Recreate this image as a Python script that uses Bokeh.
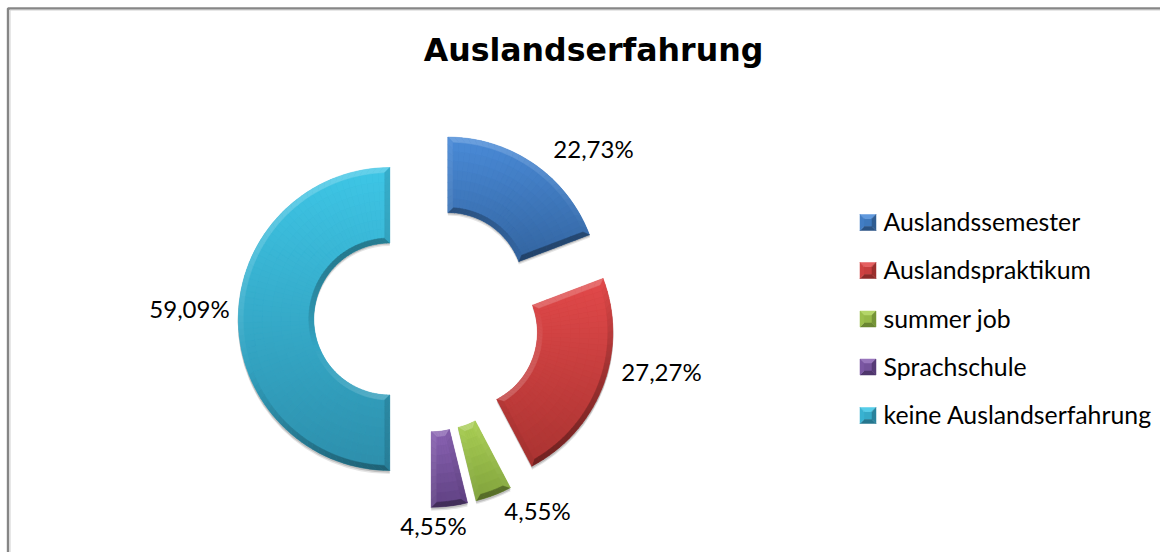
import math
from bokeh.plotting import figure
from bokeh.models import Range1d
from bokeh.embed import file_html
from bokeh.resources import INLINE
from bokeh.core.properties import value

# ---- data ----
title = "Auslandserfahrung"
categories = ["Auslandssemester", "Auslandspraktikum", "summer job", "Sprachschule", "keine Auslandserfahrung"]
values = [22.73, 27.27, 4.55, 4.55, 59.09]
labels = ["22,73%", "27,27%", "4,55%", "4,55%", "59,09%"]

# ---- styles / layout ----
top_colors = ["#4a8bd8", "#e2494a", "#aacf55", "#8a63b3", "#3ec6e6"]
bot_colors = ["#33649f", "#a93331", "#80a23c", "#5f4182", "#2d8eab"]
label_xy = [(593, 147.5), (661, 370.5), (537, 509.5), (433, 524.5), (189, 307.5)]
legend_y = [221, 269, 317.5, 365.5, 414]
CX, CY, R, RI, EXPL, BEV = 426.3, 318.5, 151.5, 76.0, 37.0, 5.0
FONT = "Lato"
LIGHT = (-0.35, 0.93)


def hex2rgb(h):
    return tuple(int(h[i:i + 2], 16) for i in (1, 3, 5))


def mix(a, b, t):
    t = max(0.0, min(1.0, t))
    return tuple(a[i] + (b[i] - a[i]) * t for i in range(3))


def tohex(c):
    return "#%02x%02x%02x" % tuple(int(round(v)) for v in c)


def shade(c, s):
    return mix(c, (255, 255, 255), s * 0.2) if s > 0 else mix(c, (0, 0, 0), -s * 0.34)


W, H = 1160, 552
p = figure(width=W, height=H, output_backend="svg", toolbar_location=None,
           x_range=Range1d(0, W), y_range=Range1d(-H, 0),
           min_border=0, outline_line_color=None, background_fill_color="white")
p.axis.visible = False
p.grid.visible = False

# frame
p.line([7.5, 7.5, W], [-H, -8, -8], line_color="#868686", line_width=2.4)
p.line([9.5, 9.5, W], [-H, -9.5, -9.5], line_color="#d0d0d0", line_width=1)

total = sum(values)
theta = 0.0
xs, ys, cols = [], [], []


def add(poly, col):
    xs.append([q[0] for q in poly])
    ys.append([q[1] for q in poly])
    cols.append(tohex(col))


for i, v in enumerate(values):
    t0, t1 = theta, theta + v / total * 2 * math.pi
    theta = t1
    mid = (t0 + t1) / 2
    ax = CX + EXPL * math.sin(mid)
    ay = -CY + EXPL * math.cos(mid)

    def pt(rho, th):
        return (ax + rho * math.sin(th), ay + rho * math.cos(th))

    top, bot = hex2rgb(top_colors[i]), hex2rgb(bot_colors[i])
    samples = [pt(rr, t0 + (t1 - t0) * k / 40) for rr in (RI, R) for k in range(41)]
    ymax, ymin = max(q[1] for q in samples), min(q[1] for q in samples)

    def grad(y):
        return mix(top, bot, (ymax - y) / (ymax - ymin))

    # soft shadow and the base wedge
    for off, al in ((3.0, 0.10), (1.6, 0.16)):
        p.annular_wedge(x=[ax], y=[ay - off], inner_radius=RI, outer_radius=R + 0.6,
                        start_angle=math.pi / 2 - t1, end_angle=math.pi / 2 - t0,
                        fill_color="#000000", fill_alpha=al, line_color=None)
    p.annular_wedge(x=[ax], y=[ay], inner_radius=RI, outer_radius=R,
                    start_angle=math.pi / 2 - t1, end_angle=math.pi / 2 - t0,
                    fill_color=tohex(grad((ymax + ymin) / 2)), line_color=None)

    d_o = math.asin(BEV / (R - BEV))
    d_i = math.asin(BEV / (RI + BEV))
    nseg = max(4, int((t1 - t0) / math.radians(2.5)))
    nrad = 7
    # face
    for j in range(nrad):
        r0 = RI + BEV + (R - RI - 2 * BEV) * j / nrad
        r1 = RI + BEV + (R - RI - 2 * BEV) * (j + 1) / nrad
        d0 = math.asin(BEV / r0)
        d1 = math.asin(BEV / r1)
        for k in range(nseg):
            a00 = t0 + d0 + (t1 - t0 - 2 * d0) * k / nseg
            a01 = t0 + d0 + (t1 - t0 - 2 * d0) * (k + 1) / nseg
            a10 = t0 + d1 + (t1 - t0 - 2 * d1) * k / nseg
            a11 = t0 + d1 + (t1 - t0 - 2 * d1) * (k + 1) / nseg
            poly = [pt(r0, a00), pt(r0, a01), pt(r1, a11), pt(r1, a10)]
            add(poly, grad(sum(q[1] for q in poly) / 4))
    # curved bevels
    for k in range(nseg):
        f0, f1 = k / nseg, (k + 1) / nseg
        am = t0 + (t1 - t0) * (f0 + f1) / 2
        nx, ny = math.sin(am), math.cos(am)
        s = nx * LIGHT[0] + ny * LIGHT[1]
        o = [pt(R, t0 + (t1 - t0) * f0), pt(R, t0 + (t1 - t0) * f1),
             pt(R - BEV, t0 + d_o + (t1 - t0 - 2 * d_o) * f1), pt(R - BEV, t0 + d_o + (t1 - t0 - 2 * d_o) * f0)]
        add(o, shade(grad(sum(q[1] for q in o) / 4), s))
        n = [pt(RI, t0 + (t1 - t0) * f0), pt(RI, t0 + (t1 - t0) * f1),
             pt(RI + BEV, t0 + d_i + (t1 - t0 - 2 * d_i) * f1), pt(RI + BEV, t0 + d_i + (t1 - t0 - 2 * d_i) * f0)]
        add(n, shade(grad(sum(q[1] for q in n) / 4), -s))
    # straight bevels
    s0 = -math.cos(t0) * LIGHT[0] + math.sin(t0) * LIGHT[1]
    s1 = math.cos(t1) * LIGHT[0] - math.sin(t1) * LIGHT[1]
    for j in range(10):
        g0, g1 = j / 10, (j + 1) / 10
        for (edge, sign, sv) in ((t0, 1, s0), (t1, -1, s1)):
            q = [pt(RI + (R - RI) * g0, edge), pt(RI + (R - RI) * g1, edge)]
            ra = RI + BEV + (R - RI - 2 * BEV) * g1
            rb = RI + BEV + (R - RI - 2 * BEV) * g0
            q += [pt(ra, edge + sign * math.asin(BEV / ra)), pt(rb, edge + sign * math.asin(BEV / rb))]
            add(q, shade(grad(sum(c[1] for c in q) / 4), sv))

    # legend swatch
    ly = -(legend_y[i] + 1)
    x0, x1, hw, b = 859.5, 875.5, 8.0, 4.0
    add([(x0 + b, ly + hw - b), (x1 - b, ly + hw - b), (x1 - b, ly - hw + b), (x0 + b, ly - hw + b)], mix(top, bot, 0.5))
    add([(x0, ly + hw), (x1, ly + hw), (x1 - b, ly + hw - b), (x0 + b, ly + hw - b)], shade(top, 0.6))
    add([(x0, ly - hw), (x1, ly - hw), (x1 - b, ly - hw + b), (x0 + b, ly - hw + b)], shade(bot, -0.5))
    add([(x0, ly + hw), (x0, ly - hw), (x0 + b, ly - hw + b), (x0 + b, ly + hw - b)], mix(top, bot, 0.35))
    add([(x1, ly + hw), (x1, ly - hw), (x1 - b, ly - hw + b), (x1 - b, ly + hw - b)], shade(bot, -0.25))

p.patches(xs, ys, fill_color=cols, line_color=cols, line_width=0.5)

# texts
p.text(x=[593], y=[-49.5], text=[title], text_font=value("DejaVu Sans"), text_font_style="bold",
       text_font_size="31.6px", text_color="#000000", text_align="center", text_baseline="middle")
p.text(x=[q[0] for q in label_xy], y=[-q[1] for q in label_xy], text=labels, text_font=value(FONT),
       text_font_size="24px", text_color="#000000", text_align="center", text_baseline="middle")
p.text(x=[883] * len(categories), y=[-q for q in legend_y], text=categories, text_font=value(FONT),
       text_font_size="24.8px", text_color="#000000", text_align="left", text_baseline="middle")

open("out.html", "w").write(file_html(p, INLINE))
